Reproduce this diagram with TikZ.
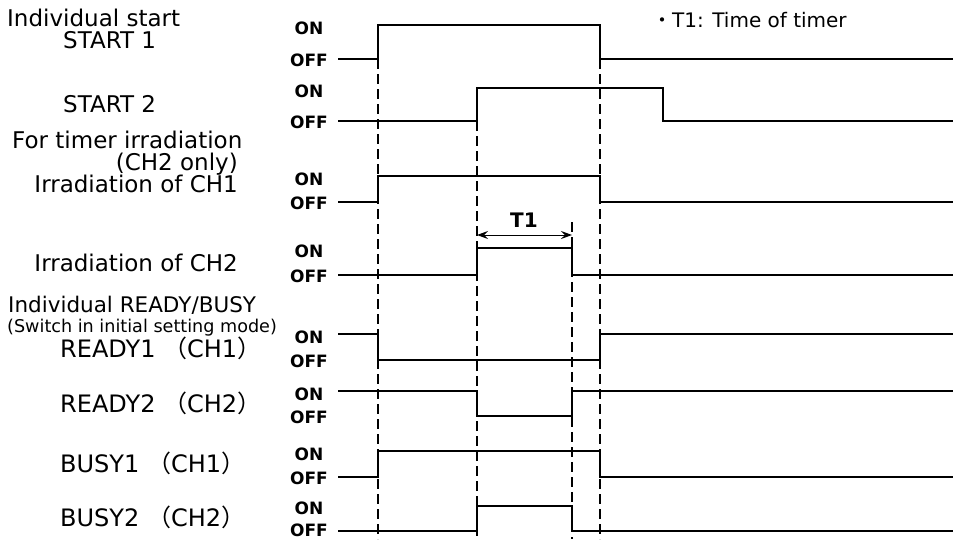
\documentclass[tikz,border=0pt]{standalone}
\usepackage{fontspec}
\setmainfont{DejaVu Sans}
\newfontfamily\cjk{Noto Sans CJK JP}
\usepackage{tikz}
\usetikzlibrary{arrows.meta}

% full-width brackets as printed in the chart
\newcommand{\fwl}{{\cjk （}}
\newcommand{\fwr}{{\cjk ）}}

\begin{document}
\begin{tikzpicture}[
  x=1pt, y=-1pt,
  >={Stealth[length=11pt,width=8pt,inset=4pt]},
  lbl/.style={
    anchor=base west,
    inner sep=0pt,
    font=\fontsize{23}{26}\selectfont
  },
  lblr/.style={lbl, anchor=base east},
  chan/.style={lbl, font=\fontsize{24}{27}\selectfont},
  lvl/.style={inner sep=0pt, font=\bfseries\fontsize{17}{20}\selectfont},
  sig/.style={line width=1.4pt},
  guide/.style={line width=1.3pt, dash pattern=on 10pt off 5pt},
  note/.style={anchor=base west, inner sep=0pt, font=\fontsize{20}{24}\selectfont}
]
  \useasboundingbox (0,0) rectangle (953,539);

  % signal names
  \node[lbl] (hstart) at (7,26) {Individual start};
  \node[lbl] (start1) at (63,48) {START 1};
  \node[lbl] (start2) at (63,112) {START 2};
  \node[lbl] (htimer) at (12,148) {For timer irradiation};
  \node[lblr] (ch2only) at (238,170) {(CH2 only)};
  \node[lblr] (irr1) at (238,192) {Irradiation of CH1};
  \node[lblr] (irr2) at (238,271) {Irradiation of CH2};
  \node[lbl, font=\fontsize{21.5}{24}\selectfont] (hready) at (8,312) {Individual READY/BUSY};
  \node[lbl, font=\fontsize{17.6}{20}\selectfont] (switch) at (7,332) {(Switch in initial setting mode)};
  \node[chan] (ready1) at (60,357) {READY1 \fwl CH1\fwr};
  \node[chan] (ready2) at (60,412) {READY2 \fwl CH2\fwr};
  \node[chan] (busy1) at (60,472) {BUSY1 \fwl CH1\fwr};
  \node[chan] (busy2) at (60,526) {BUSY2 \fwl CH2\fwr};

  % ON / OFF levels
  \node[lvl] (s1on) at (309,28) {ON};
  \node[lvl] (s1off) at (309,60) {OFF};
  \node[lvl] (s2on) at (309,91) {ON};
  \node[lvl] (s2off) at (309,122) {OFF};
  \node[lvl] (c1on) at (309,179) {ON};
  \node[lvl] (c1off) at (309,203) {OFF};
  \node[lvl] (c2on) at (309,251) {ON};
  \node[lvl] (c2off) at (309,276) {OFF};
  \node[lvl] (r1on) at (309,337) {ON};
  \node[lvl] (r1off) at (309,361) {OFF};
  \node[lvl] (r2on) at (309,394) {ON};
  \node[lvl] (r2off) at (309,417) {OFF};
  \node[lvl] (b1on) at (309,454) {ON};
  \node[lvl] (b1off) at (309,478) {OFF};
  \node[lvl] (b2on) at (309,508) {ON};
  \node[lvl] (b2off) at (309,530) {OFF};

  % timing guides
  \draw[guide] (378,59) -- (378,539);
  \draw[guide] (477,121) -- (477,539);
  \draw[guide] (572,222) -- (572,539);
  \draw[guide] (600,59) -- (600,539);

  % waveforms
  \draw[sig] (338,59) -- (378,59) -- (378,25) -- (600,25) -- (600,59) -- (953,59);
  \draw[sig] (338,121) -- (477,121) -- (477,88) -- (663,88) -- (663,121) -- (953,121);
  \draw[sig] (338,202) -- (378,202) -- (378,176) -- (600,176) -- (600,202) -- (953,202);
  \draw[sig] (338,275) -- (477,275) -- (477,248) -- (572,248) -- (572,275) -- (953,275);
  \draw[sig] (338,334) -- (378,334) -- (378,360) -- (600,360) -- (600,334) -- (953,334);
  \draw[sig] (338,391) -- (477,391) -- (477,416) -- (572,416) -- (572,391) -- (953,391);
  \draw[sig] (338,477) -- (378,477) -- (378,451) -- (600,451) -- (600,477) -- (953,477);
  \draw[sig] (338,531) -- (477,531) -- (477,506) -- (572,506) -- (572,531) -- (953,531);

  % timer span
  \coordinate (tbeg) at (477,235);
  \coordinate (tend) at (572,235);
  \draw[<->, line width=1pt] (tbeg) -- (tend);
  \node[lvl, anchor=base, font=\bfseries\fontsize{20}{24}\selectfont] (t1) at (524,227) {T1};

  \node[note] (legend) at (652,27) {{\cjk ・}T1: Time of timer};
\end{tikzpicture}
\end{document}
